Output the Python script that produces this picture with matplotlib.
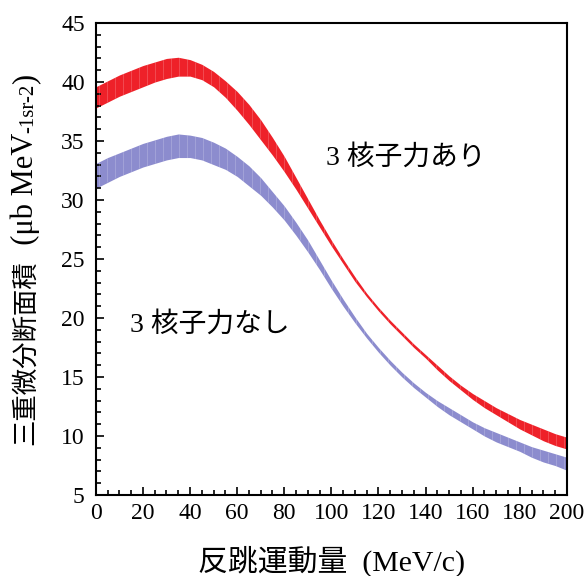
import numpy as np
import matplotlib
matplotlib.use("Agg")
import matplotlib.pyplot as plt
from matplotlib.ticker import MultipleLocator

plt.rcParams['font.family'] = ['Liberation Serif', 'Noto Sans CJK JP']

# 反跳運動量 (MeV/c)
p = [0, 5, 10, 15, 20, 25, 30, 35, 40, 45, 50, 55, 60, 65, 70, 75, 80, 85, 90, 95,
     100, 105, 110, 115, 120, 125, 130, 135, 140, 145, 150, 155, 160, 165, 170, 175,
     180, 185, 190, 195, 200]

# 3核子力あり (上限, 下限)
with_up = [39.6, 40.1, 40.6, 41.0, 41.4, 41.7, 42.0, 42.1, 41.9, 41.5, 40.9, 40.1,
           39.2, 38.1, 36.8, 35.3, 33.7, 31.9, 30.1, 28.3, 26.6, 25.0, 23.5, 22.1,
           20.9, 19.8, 18.8, 17.8, 16.9, 16.0, 15.1, 14.3, 13.6, 13.0, 12.4, 11.9,
           11.4, 11.0, 10.6, 10.2, 9.9]
with_lo = [37.8, 38.3, 38.8, 39.2, 39.6, 40.0, 40.3, 40.5, 40.5, 40.2, 39.6, 38.7,
           37.6, 36.4, 35.1, 33.8, 32.4, 30.9, 29.3, 27.7, 26.1, 24.6, 23.1, 21.8,
           20.6, 19.5, 18.5, 17.5, 16.6, 15.6, 14.7, 13.9, 13.1, 12.4, 11.8, 11.2,
           10.6, 10.1, 9.6, 9.2, 8.9]

# 3核子力なし (上限, 下限)
without_up = [33.1, 33.6, 34.0, 34.4, 34.8, 35.1, 35.4, 35.6, 35.5, 35.3, 34.9, 34.4,
              33.7, 32.9, 31.9, 30.7, 29.5, 28.1, 26.6, 24.9, 23.2, 21.6, 20.1, 18.7,
              17.5, 16.4, 15.4, 14.5, 13.7, 13.0, 12.4, 11.8, 11.2, 10.7, 10.3, 9.9,
              9.5, 9.1, 8.8, 8.5, 8.2]
without_lo = [31.0, 31.5, 32.0, 32.4, 32.8, 33.1, 33.4, 33.6, 33.6, 33.4, 33.0, 32.6,
              32.0, 31.2, 30.4, 29.4, 28.3, 27.0, 25.6, 24.1, 22.5, 21.0, 19.6, 18.3,
              17.1, 16.0, 15.0, 14.1, 13.3, 12.5, 11.8, 11.2, 10.6, 10.0, 9.5, 9.1,
              8.7, 8.2, 7.8, 7.5, 7.1]

RED = '#ee2129'
BLUE = '#8c8cce'


def draw_band(ax, x, lo, up, color):
    ax.fill_between(x, lo, up, color=color, linewidth=0)
    # 帯の中の細い縦縞
    xs = np.arange(1.5, 200, 3.4)
    ax.vlines(xs, np.interp(xs, x, lo), np.interp(xs, x, up),
              colors='white', alpha=0.22, linewidth=0.6)


W, H = 588, 576
fig = plt.figure(figsize=(W / 100, H / 100), dpi=100)
ax = fig.add_axes([0.163, 0.1406, 0.801, 0.8194])

draw_band(ax, p, with_lo, with_up, RED)
draw_band(ax, p, without_lo, without_up, BLUE)

ax.set_xlim(0, 200)
ax.set_ylim(5, 45)
ax.xaxis.set_major_locator(MultipleLocator(20))
ax.xaxis.set_minor_locator(MultipleLocator(5))
ax.yaxis.set_major_locator(MultipleLocator(5))
ax.yaxis.set_minor_locator(MultipleLocator(1))
ax.tick_params(which='both', direction='in', top=False, right=False,
               labelsize=17, width=1.2)
ax.tick_params(which='major', length=6)
ax.tick_params(which='minor', length=3.5)
ax.tick_params(axis='x', pad=6)
ax.tick_params(axis='y', pad=8)
for s in ax.spines.values():
    s.set_linewidth(1.5)

ax.text(97.7, 33.6, '3 核子力あり', fontsize=20, va='center', ha='left')
ax.text(14.4, 19.4, '3 核子力なし', fontsize=20, va='center', ha='left')

ax.set_xlabel('反跳運動量  (MeV/c)', fontsize=21.5, labelpad=15)

# 縦軸ラベル: 小さい "-1sr-2" を同じベースラインに並べる
renderer = fig.canvas.get_renderer()
x0, y0 = 33 / W, (H - 445) / H
parts = [('三重微分断面積', 19), ('  (μb MeV', 22), ('-1sr-2', 15), (')', 22)]
for s, size in parts:
    t = fig.text(x0, y0, s, fontsize=size, rotation=90, rotation_mode='anchor',
                 ha='left', va='baseline')
    y0 += t.get_window_extent(renderer).height / H

fig.savefig('out.png', dpi=100)
